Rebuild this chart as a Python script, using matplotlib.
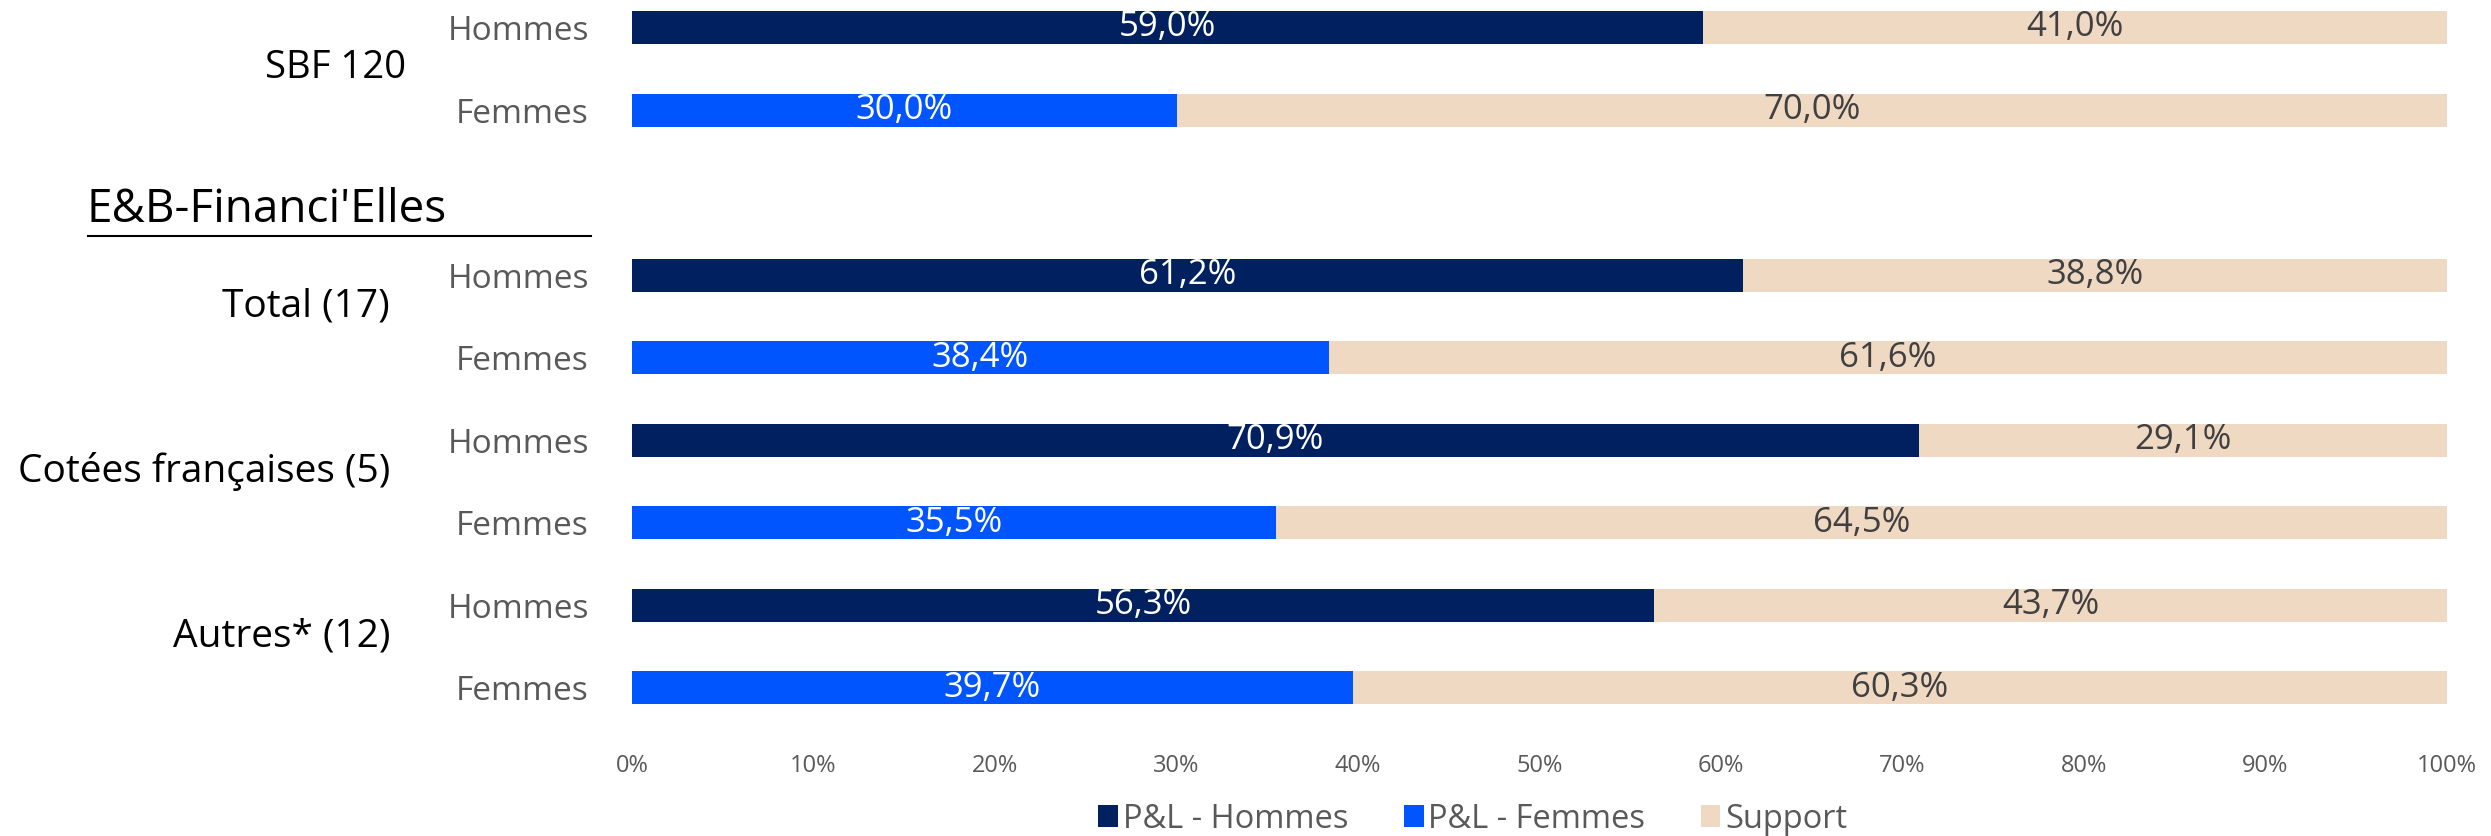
#!/usr/bin/env python3

"""
plot.py  |  P&L vs support roles, men / women, SBF 120 and E&B-Financi'Elles
"""

# %% load libraries
import numpy as np
import matplotlib
matplotlib.use('Agg')
import matplotlib.pyplot as plt


# %% data

# group labels (left column)
groups = ['SBF 120', 'Total (17)', 'Cotées françaises (5)', 'Autres* (12)']
# row labels
genders = ['Hommes', 'Femmes']
# share of P&L roles, in %, rows ordered Hommes / Femmes per group
pl_share = [59.0, 30.0, 61.2, 38.4, 70.9, 35.5, 56.3, 39.7]
# share of support roles, in %
support_share = [41.0, 70.0, 38.8, 61.6, 29.1, 64.5, 43.7, 60.3]
# x axis ticks
x_ticks = [0, 10, 20, 30, 40, 50, 60, 70, 80, 90, 100]
# legend entries
series_names = ['P&L - Hommes', 'P&L - Femmes', 'Support']
section_title = "E&B-Financi'Elles"


# %% layout

# --+ row positions: SBF rows, one blank row for the section title, then E&B
rows = np.array([0, 1, 3, 4, 5, 6, 7, 8])
row_labels = genders * len(groups)
pl = np.array(pl_share)
sup = np.array(support_share)
is_h = np.array([lab == 'Hommes' for lab in row_labels])

# --+ colours
navy = '#002060'
blue = '#0055FF'
beige = '#F0D9C3'
grey = '#595959'
dark = '#404040'

plt.rcParams['font.family'] = ['Open Sans', 'DejaVu Sans']


# %% figure

fig = plt.figure(figsize=(24.91, 8.36), dpi=100)
ax = fig.add_axes([632 / 2491, 1 - 737.5 / 836, 1815 / 2491, 737.5 / 836])

h = 0.40
b_h = ax.barh(rows[is_h], pl[is_h], height=h, color=navy,
              label=series_names[0])
b_f = ax.barh(rows[~is_h], pl[~is_h], height=h, color=blue,
              label=series_names[1])
b_s = ax.barh(rows, sup, left=pl, height=h, color=beige,
              label=series_names[2])


def pct(v):
    return f'{v:.1f}%'.replace('.', ',')


# --+ labels inside bars
ax.bar_label(b_h, labels=[pct(v) for v in pl[is_h]], label_type='center',
             color='white', fontsize=25)
ax.bar_label(b_f, labels=[pct(v) for v in pl[~is_h]], label_type='center',
             color='white', fontsize=25)
ax.bar_label(b_s, labels=[pct(v) for v in sup], label_type='center',
             color=dark, fontsize=25)

# --+ axis properties
ax.set_xlim(0, 100)
ax.set_ylim(8.6, -0.333)
ax.set_xticks(x_ticks)
ax.set_xticklabels([f'{t}%' for t in x_ticks], fontsize=17, color=grey)
ax.set_yticks(rows)
ax.set_yticklabels(row_labels, fontsize=24, color=grey)
ax.tick_params(axis='y', length=0, pad=31)
ax.tick_params(axis='x', length=0, pad=12)
for s in ax.spines.values():
    s.set_visible(False)

# --+ group labels
tr = ax.get_yaxis_transform()
group_mid = rows.reshape(-1, 2).mean(axis=1)
ax.text(-0.1245, group_mid[0] + 0.115, groups[0], transform=tr,
        ha='right', va='baseline', fontsize=27.5, color='black')
for g, m in zip(groups[1:], group_mid[1:]):
    ax.text(-0.1333, m, g, transform=tr, ha='right', va='baseline',
            fontsize=28, color='black')

# --+ section title with underline
ax.text(-0.3003, 2.356, section_title, transform=tr, ha='left',
        va='baseline', fontsize=33, color='black')
ax.plot([-0.2996, -0.0226], [2.525, 2.525], transform=tr, color='black',
        lw=1.5, clip_on=False)

# --+ legend
ax.legend(loc='center', bbox_to_anchor=(1473 / 2491, 1 - 819 / 836),
          bbox_transform=fig.transFigure, ncol=3, frameon=False,
          fontsize=23.5, handlelength=0.6, handleheight=0.65,
          handletextpad=0.15, columnspacing=1.7, borderpad=0,
          labelcolor=grey)

# --+ save plot
plt.savefig('out.png', dpi=100)
